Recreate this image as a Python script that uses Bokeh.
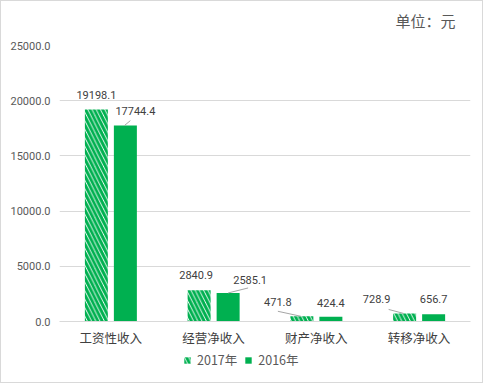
from bokeh.plotting import figure
from bokeh.layouts import column
from bokeh.models import (ColumnDataSource, NumeralTickFormatter, FixedTicker, Label,
                          Legend, LegendItem, Range1d)
from bokeh.core.properties import value
from bokeh.embed import file_html
from bokeh.resources import INLINE

# ---- data ----
categories = ["工资性收入", "经营净收入", "财产净收入", "转移净收入"]
series_names = ["2017年", "2016年"]
values_2017 = [19198.1, 2840.9, 471.8, 728.9]
values_2016 = [17744.4, 2585.1, 424.4, 656.7]
y_ticks = [0, 5000, 10000, 15000, 20000, 25000]
unit_text = "单位：元"

# ---- layout / style ----
GREEN = "#00B050"
W = 481
TOP_H = 30
H = 320
LEG_H = 381 - TOP_H - H
ML, MR, MT, MB = 58, 12, 14, 30
frame_w = W - ML - MR
frame_h = H - MT - MB
YMAX = 25000
px_x = 1.0 / (frame_w / len(categories))    # data units per px (x)
px_y = YMAX / frame_h                        # data units per px (y)
bar_w = 23 * px_x
off = 14.5 * px_x
HATCH = dict(fill_color="white", line_color=None, hatch_pattern="\\", hatch_color=GREEN,
             hatch_weight=3, hatch_scale=8.5)


def strip(height):
    f = figure(width=W, height=height, output_backend="svg", toolbar_location=None,
               x_range=Range1d(0, 1), y_range=Range1d(0, 1), x_axis_type=None, y_axis_type=None,
               min_border_left=ML, min_border_right=MR, min_border_top=0, min_border_bottom=0)
    f.outline_line_color = None
    f.xgrid.visible = False
    f.ygrid.visible = False
    return f


xc = [i + 0.5 for i in range(len(categories))]
x17 = [x - off for x in xc]
x16 = [x + off for x in xc]

# top strip with unit text
top = strip(TOP_H)
top.add_layout(Label(x=frame_w - 15, y=TOP_H - 19, x_units="screen", y_units="screen",
                     text=unit_text, text_align="right", text_baseline="middle",
                     text_font="Noto Sans CJK SC", text_font_size="15px", text_color="#595959"))

p = figure(width=W, height=H, output_backend="svg", toolbar_location=None,
           x_range=Range1d(0, len(categories)), y_range=Range1d(0, YMAX),
           min_border_left=ML, min_border_right=MR, min_border_top=MT, min_border_bottom=MB)
p.outline_line_color = None
p.background_fill_color = "white"
p.border_fill_color = "white"

s17 = ColumnDataSource(dict(x=x17, top=values_2017))
s16 = ColumnDataSource(dict(x=x16, top=values_2016))
r17 = p.vbar(x="x", top="top", width=bar_w, source=s17, **HATCH)
r16 = p.vbar(x="x", top="top", width=bar_w, source=s16, fill_color=GREEN, line_color=None)

# data labels (offsets in px: dx, dy above bar top to label centre)
lab17_off = [(0, 15), (-3, 15), (-24, 14), (-28, 14)]
lab16_off = [(10, 15), (22, 13), (0, 14), (0, 15)]
lx, ly, lt = [], [], []
for xs, vals, offs in ((x17, values_2017, lab17_off), (x16, values_2016, lab16_off)):
    for x, v, (dx, dy) in zip(xs, vals, offs):
        lx.append(x + dx * px_x)
        ly.append(v + dy * px_y)
        lt.append(f"{v:.1f}")
p.text(x=lx, y=ly, text=lt, text_align="center", text_baseline="middle",
       text_font=value("Roboto"), text_font_size="11px", text_color="#404040")

# leader lines: (series, cat, x0, y0, x1, y1) in px relative to bar top centre
leaders = [(1, 0, -1, 0, 5, 5), (1, 1, 0, 0, 20, 5), (0, 2, -1, 0, -24, 5), (0, 3, -1, 0, -16, 4)]
sx0, sy0, sx1, sy1 = [], [], [], []
for s, c, a, b, cc, d in leaders:
    bx = (x17 if s == 0 else x16)[c]
    bv = (values_2017 if s == 0 else values_2016)[c]
    sx0.append(bx + a * px_x); sy0.append(bv + b * px_y)
    sx1.append(bx + cc * px_x); sy1.append(bv + d * px_y)
p.segment(x0=sx0, y0=sy0, x1=sx1, y1=sy1, line_color="#A6A6A6", line_width=1)

# axes
p.xaxis.ticker = FixedTicker(ticks=xc)
p.xaxis.major_label_overrides = {x: c for x, c in zip(xc, categories)}
p.xaxis.major_label_text_font = "Noto Sans CJK SC"
p.xaxis.major_label_text_font_size = "12.5px"
p.xaxis.major_label_text_color = "#404040"
p.xaxis.major_tick_line_color = None
p.xaxis.major_tick_out = 0
p.xaxis.major_tick_in = 0
p.xaxis.minor_tick_line_color = None
p.xaxis.minor_tick_out = 0
p.xaxis.axis_line_color = "#D9D9D9"
p.xaxis.major_label_standoff = 6

p.yaxis.ticker = FixedTicker(ticks=y_ticks)
p.yaxis.formatter = NumeralTickFormatter(format="0.0")
p.yaxis.major_label_text_font = "Roboto"
p.yaxis.major_label_text_font_size = "11px"
p.yaxis.major_label_text_color = "#595959"
p.yaxis.major_tick_line_color = None
p.yaxis.major_tick_out = 0
p.yaxis.major_tick_in = 0
p.yaxis.minor_tick_line_color = None
p.yaxis.minor_tick_out = 0
p.yaxis.axis_line_color = None
p.yaxis.major_label_standoff = 9

p.xgrid.grid_line_color = None
p.ygrid.grid_line_color = "#D9D9D9"
p.ygrid.ticker = FixedTicker(ticks=y_ticks)

# legend strip
lg = strip(LEG_H)
e17 = lg.vbar(x=[0.5], top=[0], bottom=[0], width=0.1, **HATCH)
e16 = lg.vbar(x=[0.5], top=[0], bottom=[0], width=0.1, fill_color=GREEN, line_color=None)
legend = Legend(items=[LegendItem(label=series_names[0], renderers=[e17]),
                       LegendItem(label=series_names[1], renderers=[e16])],
                orientation="horizontal", location=(124, 13),
                padding=0, margin=0, spacing=7, label_standoff=6,
                glyph_width=8, glyph_height=8, label_height=14,
                border_line_color=None, background_fill_alpha=0,
                label_text_font="Noto Sans CJK SC", label_text_font_size="12.5px",
                label_text_color="#595959")
lg.add_layout(legend, "center")

layout = column(top, p, lg, spacing=0)
layout.styles = {"border": "1px solid #D9D9D9"}

open("out.html", "w").write(file_html(layout, INLINE))
